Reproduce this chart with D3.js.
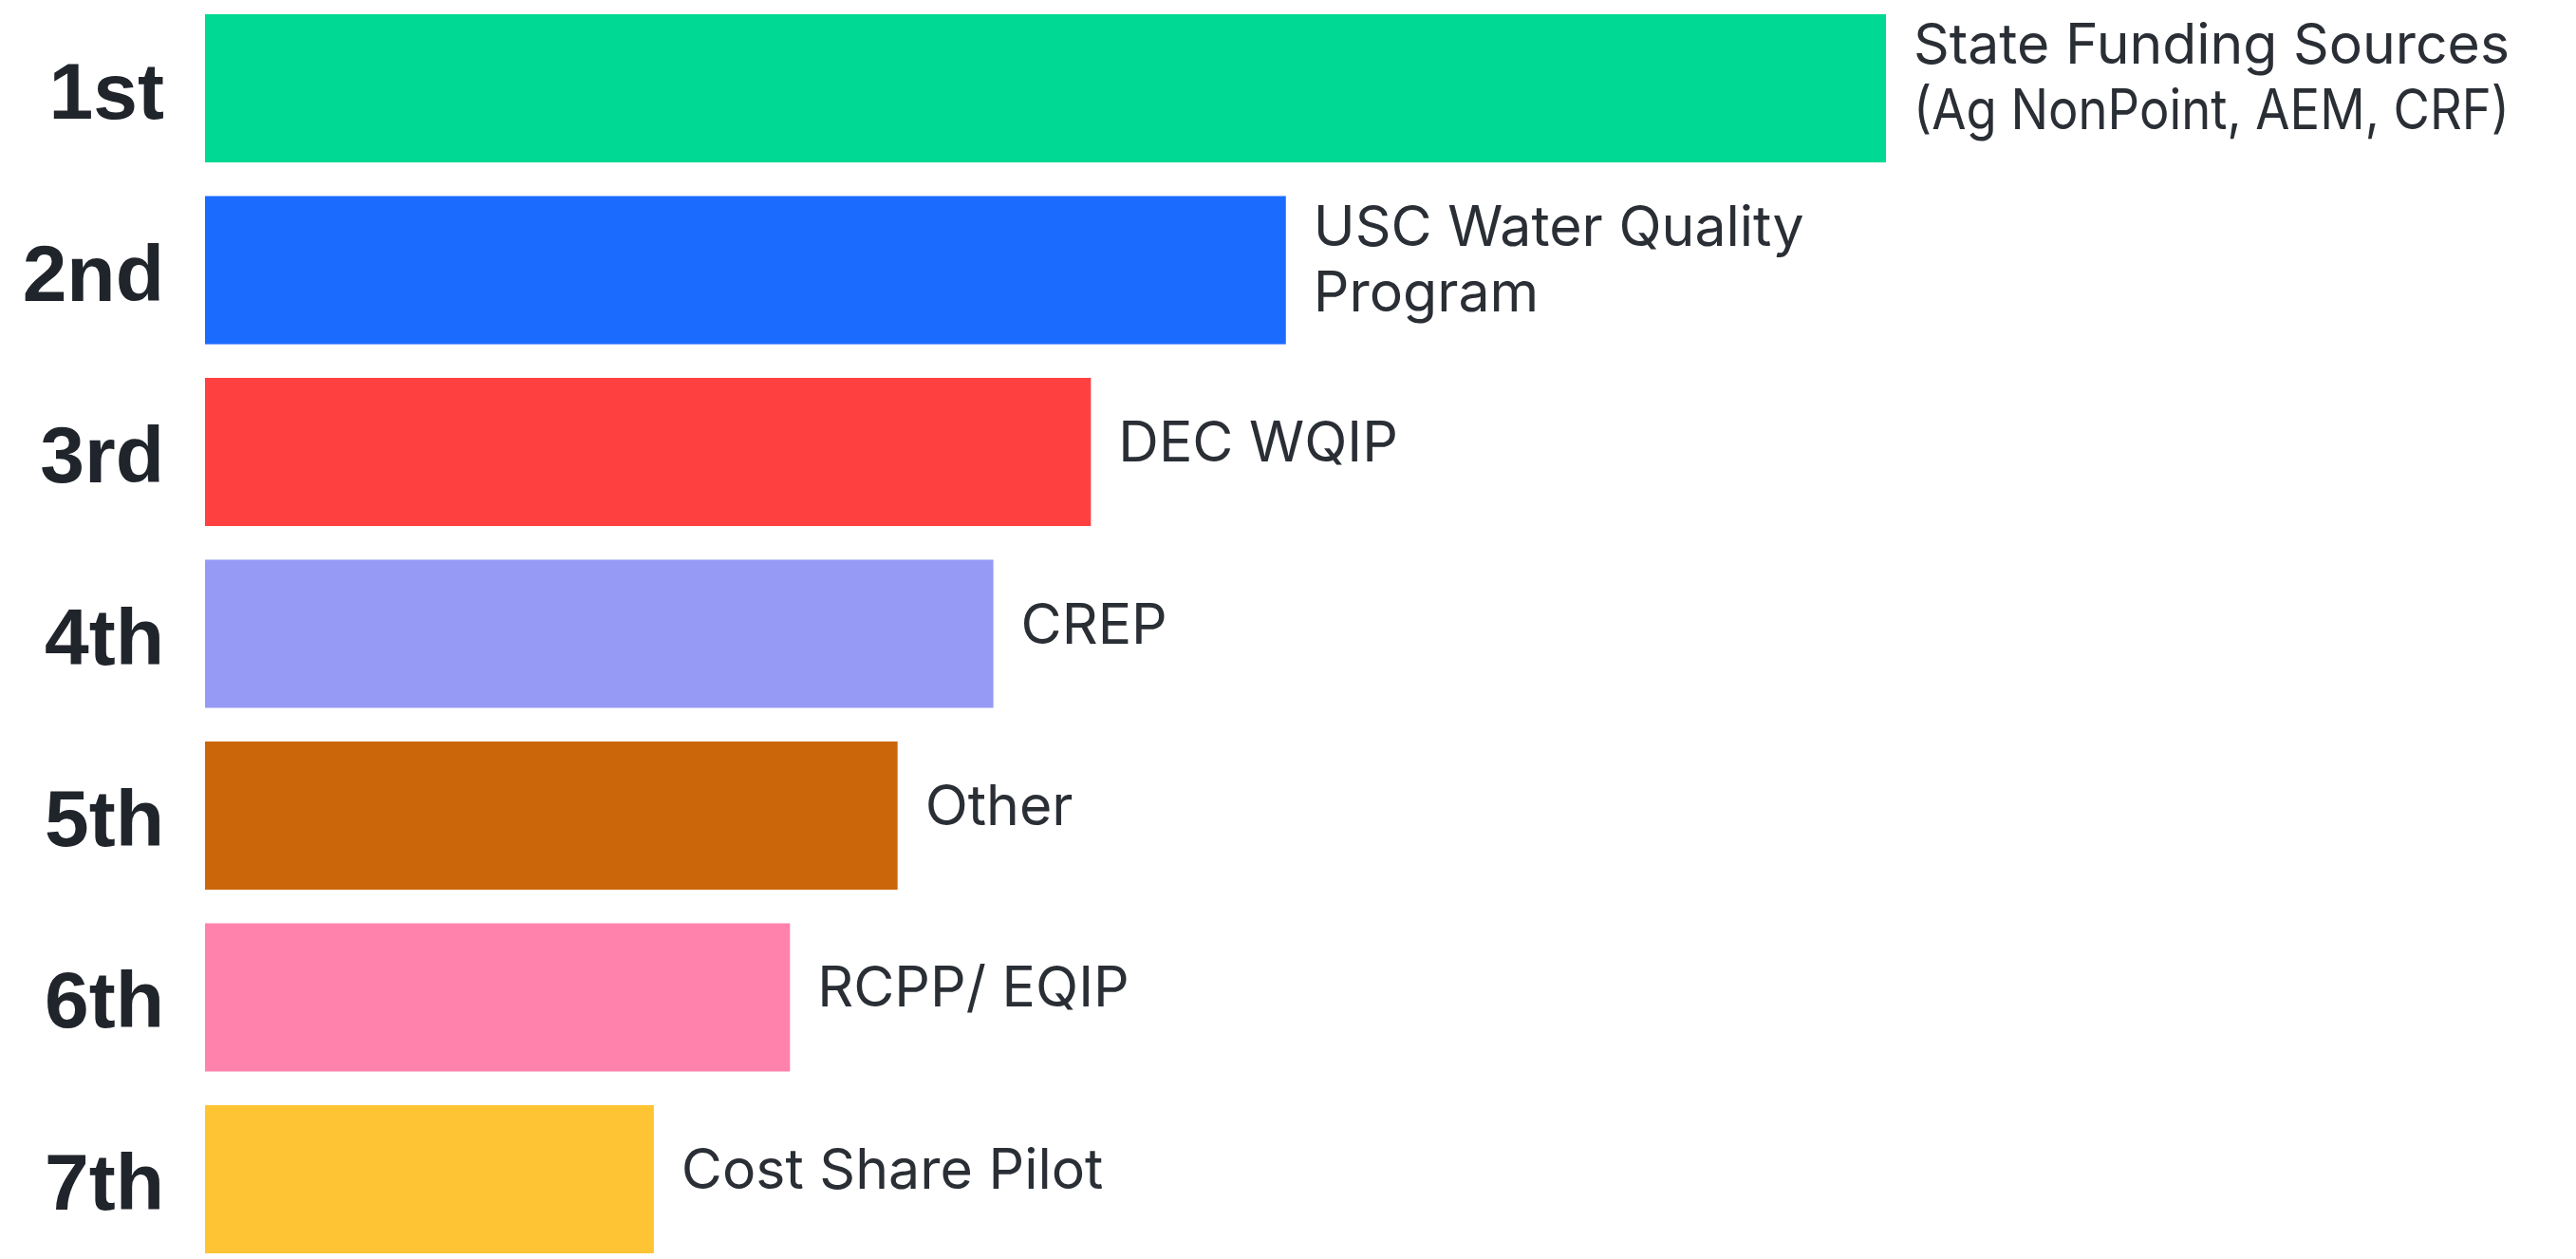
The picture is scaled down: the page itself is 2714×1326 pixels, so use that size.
<!DOCTYPE html>
<html>
<head>
<meta charset="utf-8">
<script src="https://cdn.jsdelivr.net/npm/d3@7"></script>
<style>
  html, body { margin: 0; padding: 0; background: #ffffff; }
  svg { display: block; }
</style>
</head>
<body>
<svg id="chart" width="2714" height="1326"></svg>
<script>
const ranks = ["1st", "2nd", "3rd", "4th", "5th", "6th", "7th"];
const programs = [
  ["State Funding Sources", "(Ag NonPoint, AEM, CRF)"],
  ["USC Water Quality", "Program"],
  ["DEC WQIP"],
  ["CREP"],
  ["Other"],
  ["RCPP/ EQIP"],
  ["Cost Share Pilot"]
];
const scores = [100, 64.3, 52.7, 46.9, 41.2, 34.8, 26.7];
const colors = ["#00D993", "#1C6BFF", "#FF4040", "#979AF5", "#CC660A", "#FF82AC", "#FFC434"];

const svg = d3.select("#chart");
const W = 2714;
const x = d3.scaleLinear().domain([0, 100]).range([216, 1987]);
const y = d3.scaleBand().domain(ranks).range([15, 1320]).paddingInner(0.185).paddingOuter(0);

const data = ranks.map((r, i) => ({ rank: r, label: programs[i], score: scores[i], color: colors[i] }));

svg.selectAll("rect.bar").data(data).join("rect")
  .attr("class", "bar")
  .attr("x", x(0))
  .attr("y", d => y(d.rank))
  .attr("width", d => x(d.score) - x(0))
  .attr("height", y.bandwidth())
  .attr("fill", d => d.color);

// rank labels
svg.selectAll("text.rank").data(data).join("text")
  .attr("class", "rank")
  .attr("x", 173)
  .attr("y", d => y(d.rank) + y.bandwidth() / 2 + 32)
  .attr("text-anchor", "end")
  .attr("font-family", "'Liberation Sans', Arial, sans-serif")
  .attr("font-weight", 700)
  .attr("font-size", 84)
  .attr("fill", "#20242b")
  .text(d => d.rank);

// program labels
const lab = svg.selectAll("text.prog").data(data).join("text")
  .attr("class", "prog")
  .attr("x", d => x(d.score) + 29)
  .attr("y", d => {
    const c = y(d.rank) + y.bandwidth() / 2;
    return d.label.length > 1 ? c - 26 : c + 10;
  })
  .attr("font-family", "Inter, 'Noto Sans', sans-serif")
  .attr("font-weight", 400)
  .attr("font-size", 59)
  .attr("fill", "#2a2e35");

lab.each(function(d) {
  const t = d3.select(this);
  const x0 = x(d.score) + 29;
  d.label.forEach((line, j) => {
    const ts = t.append("tspan")
      .attr("x", x0)
      .attr("dy", j === 0 ? 0 : 69)
      .text(line);
    const len = ts.node().getComputedTextLength();
    const avail = W - 70 - x0;
    if (len > avail) {
      ts.attr("textLength", avail).attr("lengthAdjust", "spacingAndGlyphs");
    }
  });
});
</script>
</body>
</html>
